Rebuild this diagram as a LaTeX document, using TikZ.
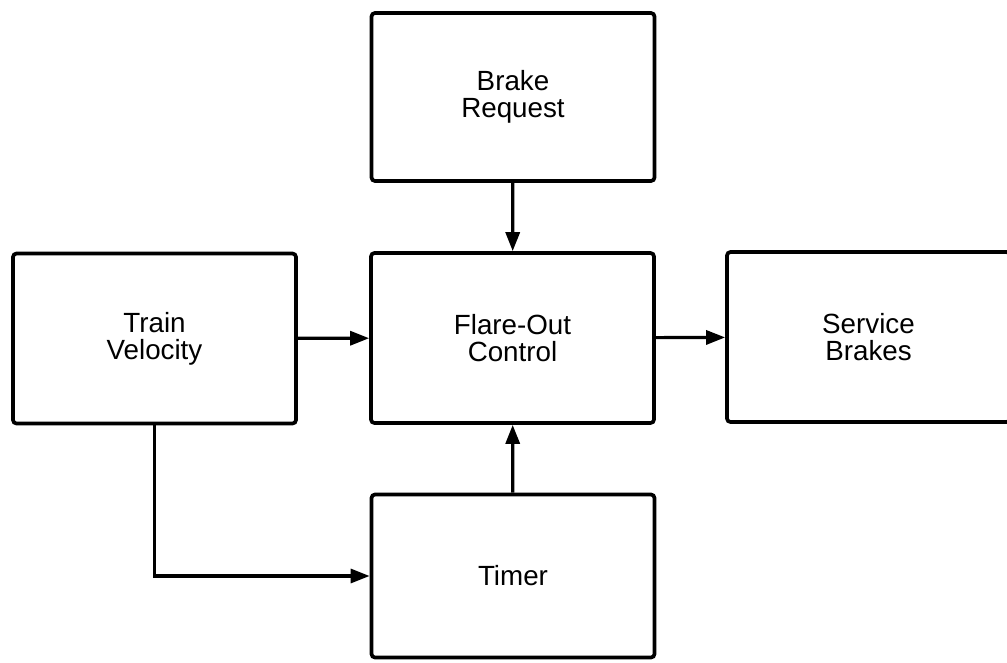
\documentclass[tikz,border=0pt]{standalone}
\usepackage{fontspec}
\setmainfont{Liberation Sans}
\usepackage{tikz}
\usetikzlibrary{arrows.meta,positioning}

\begin{document}
\begin{tikzpicture}[
      font=\fontsize{15.8}{15.4}\selectfont,
      block/.style={draw, line width=2.1pt, rounded corners=2pt, align=center, minimum width=5.66cm, minimum height=3.4cm},
      arrow/.style={-{Triangle[length=3.8mm, width=2.8mm]}, line width=1.8pt}
    ]
    \useasboundingbox (0,0) rectangle (20.14,-13.24);

    % Blocks
    \node[block, minimum height=3.36cm] (brake)   at (10.26,-1.94)  {Brake\\Request};
    \node[block]                        (train)   at (3.09,-6.77)   {Train\\Velocity};
    \node[block]                        (flare)   at (10.25,-6.76)  {Flare-Out\\Control};
    \node[block]                        (service) at (17.37,-6.74)  {Service\\Brakes};
    \node[block, minimum height=3.26cm] (timer)   at (10.26,-11.52) {Timer};

    % Connectors
    \draw[arrow] (brake) -- (flare);
    \draw[arrow] (train) -- (flare);
    \draw[arrow] (flare) -- (service);
    \draw[arrow] (timer) -- (flare);
    \draw[arrow] (train.south) |- (timer.west);
  \end{tikzpicture}
\end{document}
